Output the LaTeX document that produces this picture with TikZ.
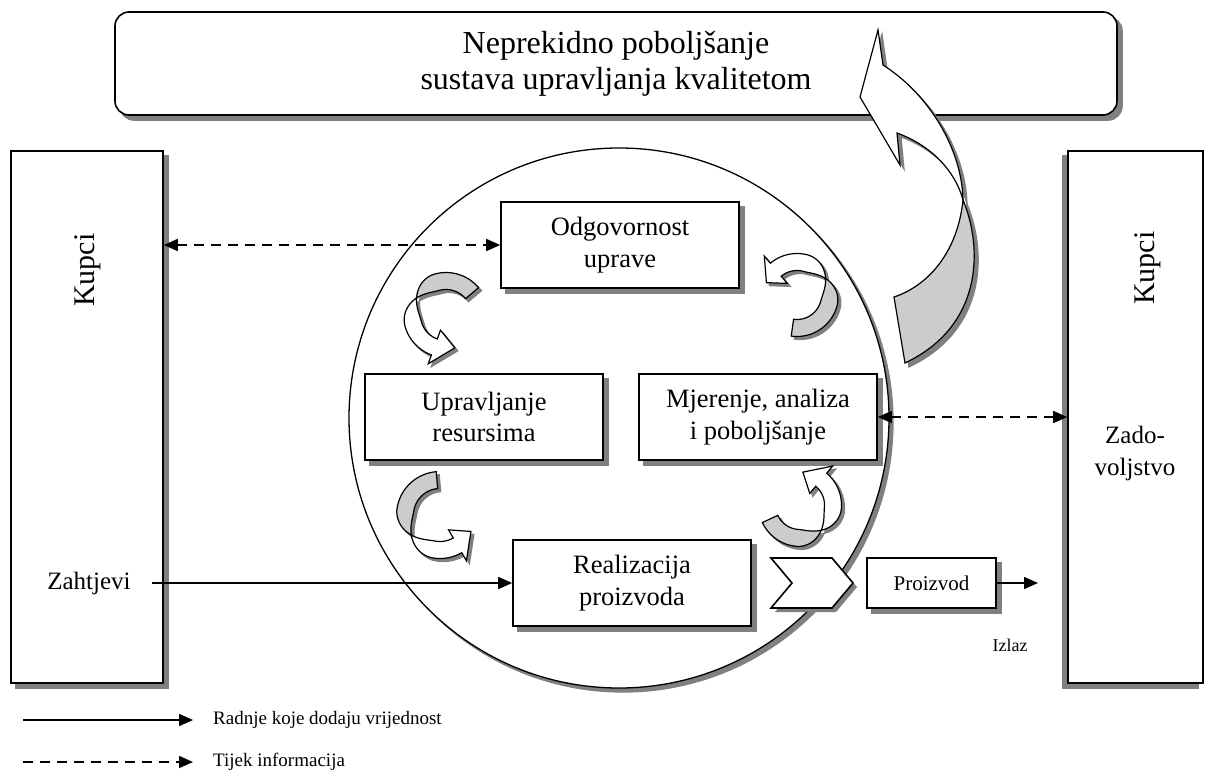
\documentclass[tikz,border=0pt]{standalone}
\usepackage{fontspec}
\setmainfont{Liberation Serif}
\usetikzlibrary{arrows.meta,shadows}
\definecolor{shadowgray}{HTML}{808080}
\definecolor{backgray}{HTML}{CCCCCC}
% curved cycle arrow: centre, R, half width, tail angle, twist angle, head angle, tip angle
\newcommand\cycarrow[7]{%
  \foreach \dx/\bcol/\fcol/\lcol in {3/shadowgray/shadowgray/shadowgray, 0/backgray/white/black}{
    \begin{scope}[shift={(\dx,\dx)}, shift={(#1)}, x=1pt, y=1pt, line width=1.2pt]
      \path[fill=\bcol, draw=\lcol]
        plot[domain=#4:#5, samples=30] (\x:{#2+#3*sin(90*min(1,(#5-\x)/45))})
        -- plot[domain=#5:#4, samples=30] (\x:{#2-#3*sin(90*min(1,(#5-\x)/45))}) -- cycle;
      \path[fill=\fcol, draw=\lcol]
        plot[domain=#5:#6, samples=30] (\x:{#2+#3*sin(90*min(1,(\x-#5)/45))})
        -- ({#6}:{#2+2.1*#3}) -- ({#7}:{#2}) -- ({#6}:{#2-2.1*#3})
        -- plot[domain=#6:#5, samples=30] (\x:{#2-#3*sin(90*min(1,(\x-#5)/45))}) -- cycle;
    \end{scope}}}

\begin{document}
\begin{tikzpicture}[x=1pt, y=-1pt,
    >={Triangle[length=14pt, width=12pt]},
    dropsh/.style={drop shadow={shadow xshift=#1, shadow yshift=-5pt, opacity=1, fill=shadowgray, draw=shadowgray}},
    dropsh/.default=5pt,
    frame/.style={draw, line width=1.6pt, fill=white},
    box/.style={frame, minimum width=238pt, minimum height=86pt, align=center,
      font=\fontsize{26.5}{31.5}\selectfont, dropsh},
    flow/.style={line width=1.6pt, ->},
    dashline/.style={dash pattern=on 10pt off 7pt},
    info/.style={line width=1.6pt, dashline, <->},
    legfont/.style={font=\fontsize{19}{23}\selectfont, anchor=west, inner sep=0pt}]
  \useasboundingbox (0,0) rectangle (1209,774);

  % customers on both sides
  \node[frame, minimum width=152pt, minimum height=532pt, dropsh] (kupcilijevo) at (87,417) {};
  \node[frame, minimum width=135pt, minimum height=532pt, dropsh=-5pt] (kupcidesno) at (1135.5,417) {};
  \node[font=\fontsize{30}{34}\selectfont, rotate=90] (kupci1) at (88,270) {Kupci};
  \node[font=\fontsize{30}{34}\selectfont, rotate=90] (kupci2) at (1148,268) {Kupci};
  \node[font=\fontsize{25}{29}\selectfont] (zahtjevi) at (89,583) {Zahtjevi};
  \node[font=\fontsize{25}{32}\selectfont, align=center] (zadovoljstvo) at (1135,453) {Zado-\\voljstvo};

  % the process circle
  \node[draw, circle, line width=1.3pt, fill=white, minimum size=540pt, inner sep=0pt,
    drop shadow={shadow xshift=4pt, shadow yshift=-4pt, opacity=1, fill=shadowgray, draw=shadowgray}] (krug) at (619,418) {};

  \node[box] (odgovornost) at (620,245) {Odgovornost\\uprave};
  \node[box] (upravljanje) at (484,417) {Upravljanje\\resursima};
  \node[box] (mjerenje) at (758,417) {Mjerenje, analiza\\i poboljšanje};
  \node[box] (realizacija) at (632,583) {Realizacija\\proizvoda};

  % output
  \begin{scope}[shift={(4,4)}]
    \fill[shadowgray] (771,558) -- (832,558) -- (853,583) -- (832,608) -- (771,608) -- (792,583) -- cycle;
  \end{scope}
  \filldraw[fill=white, line width=1.6pt] (771,558) -- (832,558) -- (853,583) -- (832,608) -- (771,608) -- (792,583) -- cycle;
  \node[frame, minimum width=129pt, minimum height=50pt, font=\fontsize{21}{25}\selectfont, dropsh] (proizvod) at (931.5,583) {Proizvod};
  \node[font=\fontsize{18}{22}\selectfont] (izlaz) at (1010,645) {Izlaz};
  \coordinate (izlazkraj) at (1038,583);
  \draw[flow] (proizvod.east) -- (izlazkraj);

  % connectors
  \coordinate (zstart) at (152,583);
  \draw[flow] (zstart) -- (realizacija.west);
  \draw[info] (kupcilijevo.east |- odgovornost.west) -- (odgovornost.west);
  \draw[info] (mjerenje.east) -- (kupcidesno.west |- mjerenje.east);

  % cycle arrows
  \cycarrow{446,315}{34}{8.5}{40}{150}{250}{285}
  \cycarrow{440,515}{35}{8.5}{95}{215}{300}{332}
  \cycarrow{800,505}{33}{8.5}{205}{310}{410}{445}
  \cycarrow{797,295}{33}{8.5}{262}{390}{490}{518}

  % continual improvement
  \node[frame, rounded corners=14pt, minimum width=1002pt, minimum height=103pt, align=center,
    font=\fontsize{32}{36}\selectfont, dropsh] (poboljsanje) at (616,63.5)
    {Neprekidno poboljšanje\\sustava upravljanja kvalitetom};
  \foreach \dx/\bcol/\fcol/\lcol in {4/shadowgray/shadowgray/shadowgray, 0/backgray/white/black}{
    \begin{scope}[shift={(\dx,\dx)}, line width=1.2pt]
      \path[fill=\bcol, draw=\lcol] (963,200) .. controls (982,245) and (985,325) .. (905,363)
        -- (894,297) .. controls (930,285) and (958,250) .. (963,200) -- cycle;
      \path[fill=\fcol, draw=\lcol] (963,200) .. controls (962,150) and (930,95) .. (883,65)
        -- (878,30) -- (860,97) -- (900,165) -- (897,133)
        .. controls (930,145) and (955,170) .. (963,200) -- cycle;
    \end{scope}}

  % legend
  \coordinate (legA1) at (23,720);
  \coordinate (legA2) at (193,720);
  \coordinate (legB1) at (23,762);
  \coordinate (legB2) at (193,762);
  \draw[flow] (legA1) -- (legA2);
  \draw[flow, dashline] (legB1) -- (legB2);
  \node[legfont] (radnje) at (213,720) {Radnje koje dodaju vrijednost};
  \node[legfont] (tijek) at (213,762) {Tijek informacija};
\end{tikzpicture}
\end{document}
